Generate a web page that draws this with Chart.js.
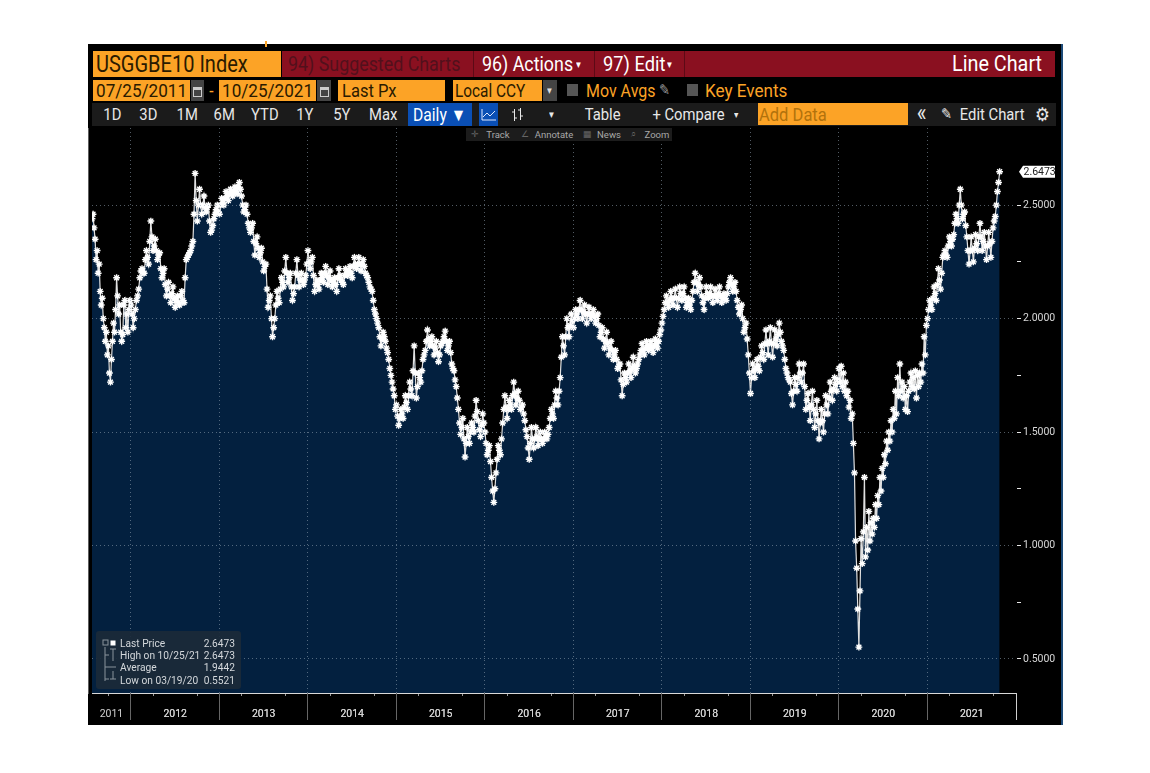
<!DOCTYPE html>
<html>
<head>
<meta charset="utf-8">
<title>USGGBE10 Index</title>
<script src="https://cdn.jsdelivr.net/npm/chart.js@4"></script>
<style>
    html, body { margin: 0; background: #fff; overflow: hidden; }
    #stage { position: relative; width: 1150px; height: 773px; }
    #panel { position: absolute; left: 88px; top: 44px; width: 973px; height: 681px; background: #000; border-right: 2px solid #1c4a78; }
    #chart { position: absolute; left: 88px; top: 128px; }
    .box { position: absolute; white-space: nowrap; font-family: Roboto, sans-serif; line-height: 1; display: flex; align-items: center; }
    .box span { display: inline-block; }
    #legend-box { position: absolute; left: 96px; top: 631px; width: 145px; height: 58px; background: rgba(27, 42, 56, .92); border-radius: 3px; font: 10.2px Roboto, sans-serif; color: #d4d8dc; white-space: nowrap; }
    #legend-box div { position: absolute; left: 24px; right: 6px; display: flex; justify-content: space-between; }
    #legend-box svg { position: absolute; left: 0; top: 0; }
</style>
</head>
<body>
<div id="stage">
    <div id="panel"></div>
    <canvas id="chart" width="973" height="597"></canvas>
    <div id="legend-box">
        <svg width="24" height="58" stroke="#8a949c" fill="none">
            <path d="M9 16V50M9 24H13M9 36H20M9 48H13M17 18V30M14 18H20M14 48H20M17 40V48"/>
            <rect x="7" y="9" width="5" height="5"/>
            <rect x="15" y="10" width="4" height="4" fill="#fff" stroke="#fff"/>
        </svg>
    </div>
</div>

<script>
const yearLabels = ['2011', '2012', '2013', '2014', '2015', '2016', '2017', '2018', '2019', '2020', '2021']
const yearLabelAt = [2011.78, 2012.5, 2013.5, 2014.5, 2015.5, 2016.5, 2017.5, 2018.5, 2019.5, 2020.5, 2021.5]
const yearLines = [2012, 2013, 2014, 2015, 2016, 2017, 2018, 2019, 2020, 2021, 2022]
const priceTicks = [0.5, 1, 1.5, 2, 2.5]
const minorPriceTicks = [0.75, 1.25, 1.75, 2.25]

// breakeven values, year by year
const values2011 = [2.44, 2.46, 2.40, 2.35, 2.26, 2.30, 2.20, 2.24, 2.12, 2.06, 2.09, 2.00, 1.96, 1.90, 1.94, 1.84, 1.88, 1.76, 1.72, 1.82, 1.90, 1.98, 1.94, 2.04, 2.18, 2.10, 2.02, 2.06, 1.94, 1.90, 1.93, 2.06, 2.08, 1.96, 2.02, 1.94, 2.04, 2.08]
const values2012 = [2.06, 1.96, 2.04, 2.10, 2.18, 2.22, 2.20, 2.30, 2.24, 2.43, 2.30, 2.35, 2.26, 2.29, 2.18, 2.22, 2.10, 2.16, 2.07, 2.14, 2.05, 2.10, 2.06, 2.12, 2.07, 2.26, 2.28, 2.30, 2.34, 2.64, 2.43, 2.57, 2.46, 2.54, 2.47, 2.50, 2.38, 2.41, 2.46, 2.50]
const values2013 = [2.46, 2.53, 2.50, 2.56, 2.52, 2.57, 2.54, 2.58, 2.55, 2.60, 2.54, 2.47, 2.50, 2.42, 2.38, 2.42, 2.28, 2.36, 2.27, 2.31, 2.21, 2.24, 2.05, 2.10, 1.92, 2.00, 2.12, 2.07, 2.18, 2.14, 2.27, 2.16, 2.20, 2.08, 2.14, 2.26, 2.14, 2.20, 2.15, 2.19]
const values2014 = [2.30, 2.22, 2.27, 2.12, 2.17, 2.13, 2.20, 2.16, 2.23, 2.15, 2.21, 2.14, 2.18, 2.12, 2.22, 2.17, 2.15, 2.22, 2.19, 2.23, 2.18, 2.27, 2.22, 2.27, 2.21, 2.26, 2.20, 2.18, 2.14, 2.12, 2.04, 2.00, 1.96, 1.88, 1.94, 1.90, 1.85, 1.78, 1.72, 1.66]
const values2015 = [1.62, 1.53, 1.60, 1.56, 1.66, 1.60, 1.72, 1.66, 1.88, 1.65, 1.76, 1.72, 1.82, 1.86, 1.95, 1.88, 1.92, 1.84, 1.90, 1.81, 1.88, 1.90, 1.945, 1.86, 1.90, 1.80, 1.77, 1.70, 1.60, 1.49, 1.56, 1.39, 1.52, 1.45, 1.54, 1.50, 1.64, 1.55, 1.48, 1.58]
const values2016 = [1.50, 1.40, 1.44, 1.30, 1.19, 1.32, 1.44, 1.40, 1.54, 1.66, 1.56, 1.64, 1.60, 1.72, 1.62, 1.68, 1.60, 1.62, 1.55, 1.48, 1.38, 1.52, 1.43, 1.52, 1.44, 1.50, 1.45, 1.50, 1.47, 1.52, 1.60, 1.56, 1.68, 1.62, 1.74, 1.92, 1.84, 2.00, 1.92, 2.02]
const values2017 = [1.96, 2.04, 2.00, 2.08, 2.00, 2.06, 1.98, 2.05, 2.00, 2.04, 1.98, 2.02, 1.92, 1.96, 1.87, 1.94, 1.84, 1.90, 1.82, 1.86, 1.78, 1.80, 1.66, 1.76, 1.72, 1.80, 1.74, 1.83, 1.76, 1.80, 1.84, 1.89, 1.84, 1.90, 1.86, 1.90, 1.85, 1.91, 1.87, 1.93]
const values2018 = [1.98, 2.04, 2.10, 2.05, 2.12, 2.06, 2.13, 2.05, 2.14, 2.08, 2.14, 2.05, 2.09, 2.04, 2.12, 2.20, 2.12, 2.18, 2.10, 2.04, 2.14, 2.09, 2.14, 2.07, 2.13, 2.08, 2.14, 2.07, 2.11, 2.08, 2.14, 2.18, 2.12, 2.16, 2.08, 2.02, 2.06, 1.94, 1.98, 1.84]
const values2019 = [1.67, 1.80, 1.74, 1.82, 1.77, 1.88, 1.82, 1.95, 1.84, 1.96, 1.83, 1.95, 1.88, 1.98, 1.90, 1.86, 1.78, 1.74, 1.72, 1.62, 1.74, 1.68, 1.80, 1.72, 1.80, 1.60, 1.67, 1.55, 1.68, 1.52, 1.64, 1.47, 1.60, 1.50, 1.66, 1.58, 1.72, 1.64, 1.74, 1.68]
const values2020 = [1.78, 1.72, 1.79, 1.70, 1.76, 1.68, 1.72, 1.66, 1.68, 1.61, 1.64, 1.56, 1.58, 1.45, 1.32, 1.02, 0.90, 0.72, 0.5521, 0.80, 1.03, 0.92, 1.06, 1.30, 0.95, 1.08, 0.98, 1.15, 1.02, 1.10, 1.05, 1.12, 1.08, 1.18, 1.12, 1.22, 1.18, 1.30, 1.24, 1.34, 1.30, 1.40, 1.36, 1.46, 1.42, 1.50, 1.46, 1.55, 1.50, 1.60, 1.56, 1.68, 1.58, 1.74, 1.66, 1.80, 1.68, 1.72, 1.65, 1.70, 1.60, 1.66, 1.59, 1.68, 1.72, 1.76, 1.70, 1.74, 1.69, 1.77, 1.65, 1.75, 1.70, 1.76, 1.72, 1.80, 1.76, 1.92, 1.84, 1.97]
const values2021 = [2.00, 2.08, 2.04, 2.14, 2.08, 2.22, 2.13, 2.27, 2.30, 2.27, 2.36, 2.32, 2.37, 2.46, 2.42, 2.57, 2.44, 2.47, 2.36, 2.24, 2.36, 2.25, 2.37, 2.30, 2.42, 2.30, 2.38, 2.26, 2.38, 2.27, 2.40, 2.45, 2.56, 2.6473]

// second reading inside the white band, sits between two neighbours of the list above
const inner2012 = [2.02, 2.00, 2.08, 2.13, 2.21, 2.20, 2.26, 2.27, 2.34, 2.36, 2.32, 2.30, 2.28, 2.22, 2.20, 2.15, 2.13, 2.10, 2.11, 2.09, 2.08, 2.07, 2.10, 2.08, 2.18, 2.27, 2.29, 2.32, 2.46, 2.52, 2.50, 2.50, 2.50, 2.49, 2.49, 2.43, 2.39, 2.44, 2.48, 2.47]
const inner2013 = [2.50, 2.51, 2.53, 2.54, 2.55, 2.55, 2.56, 2.56, 2.58, 2.57, 2.50, 2.48, 2.46, 2.40, 2.40, 2.34, 2.33, 2.31, 2.29, 2.25, 2.23, 2.13, 2.08, 2.00, 1.96, 2.06, 2.09, 2.13, 2.16, 2.21, 2.20, 2.18, 2.14, 2.11, 2.20, 2.19, 2.17, 2.17, 2.17, 2.24]
const inner2014 = [2.25, 2.25, 2.19, 2.15, 2.15, 2.17, 2.18, 2.20, 2.19, 2.18, 2.17, 2.16, 2.15, 2.18, 2.19, 2.16, 2.19, 2.20, 2.21, 2.20, 2.23, 2.24, 2.24, 2.24, 2.24, 2.23, 2.19, 2.16, 2.13, 2.08, 2.02, 1.98, 1.92, 1.91, 1.92, 1.87, 1.82, 1.75, 1.69, 1.60]
const inner2015 = [1.57, 1.56, 1.58, 1.61, 1.63, 1.66, 1.69, 1.77, 1.76, 1.70, 1.74, 1.77, 1.84, 1.90, 1.91, 1.90, 1.88, 1.87, 1.85, 1.84, 1.89, 1.92, 1.90, 1.88, 1.85, 1.78, 1.73, 1.65, 1.54, 1.52, 1.47, 1.45, 1.48, 1.50, 1.52, 1.57, 1.59, 1.51, 1.53, 1.54]
const inner2016 = [1.45, 1.42, 1.37, 1.24, 1.25, 1.38, 1.42, 1.47, 1.60, 1.61, 1.60, 1.62, 1.66, 1.67, 1.65, 1.64, 1.61, 1.58, 1.51, 1.43, 1.45, 1.47, 1.47, 1.48, 1.47, 1.47, 1.47, 1.48, 1.49, 1.56, 1.58, 1.62, 1.65, 1.68, 1.83, 1.88, 1.92, 1.96, 1.97, 1.99]
const inner2017 = [2.00, 2.02, 2.04, 2.04, 2.03, 2.02, 2.02, 2.02, 2.02, 2.01, 2.00, 1.97, 1.94, 1.91, 1.90, 1.89, 1.87, 1.86, 1.84, 1.82, 1.79, 1.73, 1.71, 1.74, 1.76, 1.77, 1.78, 1.79, 1.78, 1.82, 1.86, 1.86, 1.87, 1.88, 1.88, 1.87, 1.88, 1.89, 1.90, 1.95]
const inner2018 = [2.01, 2.07, 2.07, 2.08, 2.09, 2.09, 2.09, 2.09, 2.11, 2.11, 2.09, 2.07, 2.06, 2.08, 2.16, 2.16, 2.15, 2.14, 2.07, 2.09, 2.11, 2.11, 2.10, 2.10, 2.10, 2.11, 2.10, 2.09, 2.09, 2.11, 2.16, 2.15, 2.14, 2.12, 2.05, 2.04, 2.00, 1.96, 1.91, 1.76]
const inner2019 = [1.74, 1.77, 1.78, 1.79, 1.83, 1.85, 1.89, 1.89, 1.90, 1.89, 1.89, 1.91, 1.93, 1.94, 1.88, 1.82, 1.76, 1.73, 1.67, 1.68, 1.71, 1.74, 1.76, 1.76, 1.70, 1.64, 1.61, 1.62, 1.60, 1.58, 1.55, 1.54, 1.55, 1.58, 1.62, 1.65, 1.68, 1.69, 1.71, 1.73]
const inner2021 = [2.04, 2.06, 2.09, 2.11, 2.15, 2.17, 2.20, 2.28, 2.28, 2.32, 2.34, 2.35, 2.42, 2.44, 2.50, 2.50, 2.46, 2.41, 2.30, 2.30, 2.30, 2.31, 2.33, 2.36, 2.36, 2.34, 2.32, 2.32, 2.33, 2.34, 2.43, 2.50, 2.60]

const yearSeries = [values2011, values2012, values2013, values2014, values2015, values2016, values2017, values2018, values2019, values2020, values2021]
const innerSeries = [[], inner2012, inner2013, inner2014, inner2015, inner2016, inner2017, inner2018, inner2019, [], inner2021]
const yearStarts = [2011.56, 2012, 2013, 2014, 2015, 2016, 2017, 2018, 2019, 2020, 2021]
const yearEnds = [2012, 2013, 2014, 2015, 2016, 2017, 2018, 2019, 2020, 2021, 2021.815]

const lastPrice = 2.6473
const legendRows = [
    ['Last Price', '2.6473'],
    ['High on 10/25/21', '2.6473'],
    ['Average', '1.9442'],
    ['Low on 03/19/20', '0.5521']
]
const rangeButtons = [['1D', 112], ['3D', 148], ['1M', 187], ['6M', 224], ['YTD', 265], ['1Y', 305], ['5Y', 342], ['Max', 383]]
const toolNames = [['Track', 498, '✛', 475], ['Annotate', 554, '∠', 525], ['News', 609, '▦', 587], ['Zoom', 657, '⌕', 633]]

const stage = document.querySelector('#stage')

// Bloomberg's face is narrow, so the text is squeezed sideways
function addBox(x, y, w, h, bg, text, color, size, align, squeeze) {
    const el = document.createElement('div')
    el.className = 'box'
    const pos = align || 'flex-start'
    el.style.cssText = `left:${x}px;top:${y}px;width:${w}px;height:${h}px;background:${bg};color:${color || '#fff'};font-size:${size || 16}px;justify-content:${pos}`
    if (text) {
        const origin = pos === 'center' ? 'center' : pos === 'flex-end' ? 'right' : 'left'
        const span = document.createElement('span')
        span.textContent = text
        span.style.cssText = `transform:scaleX(${squeeze || 0.87});transform-origin:${origin}`
        el.appendChild(span)
    }
    stage.appendChild(el)
    return el
}

function addIcon(x, y, w, h, bg, svg) {
    const el = addBox(x, y, w, h, bg)
    el.style.justifyContent = 'center'
    el.innerHTML = svg
}

function renderToolbar() {
    const orange = '#fca326'
    const red = '#8a1020'
    const ink = '#2a1a00'
    const light = '#e8e8e8'
    const calendar = '<svg width="9" height="12"><rect x="0.5" y="2.5" width="8" height="9" fill="none" stroke="#ccc"/><rect x="1" y="2" width="7" height="3" fill="#ccc"/></svg>'
    addBox(265, 41, 2, 6, orange)

    addBox(93, 51, 188, 26, orange)
    addBox(96, 51, 180, 26, 'transparent', 'USGGBE10 Index', ink, 23)
    addBox(282, 51, 773, 26, red)
    addBox(288, 51, 184, 26, 'transparent', '94) Suggested Charts', '#52101c', 21, 'flex-start', 0.85)
    addBox(473, 51, 1, 26, '#5c0a16')
    addBox(482, 51, 100, 26, 'transparent', '96) Actions', '#fff', 21, 'flex-start', 0.85)
    addBox(576, 51, 12, 26, 'transparent', '▾', '#fff', 11)
    addBox(594, 51, 1, 26, '#5c0a16')
    addBox(603, 51, 70, 26, 'transparent', '97) Edit', '#fff', 21, 'flex-start', 0.87)
    addBox(667, 51, 12, 26, 'transparent', '▾', '#fff', 11)
    addBox(684, 51, 1, 26, '#5c0a16')
    addBox(900, 51, 142, 26, 'transparent', 'Line Chart', '#fff', 22, 'flex-end', 0.9)

    addBox(93, 80, 97, 21, orange, '07/25/2011', ink, 19, 'center', 0.9)
    addIcon(191, 80, 13, 21, '#444', calendar)
    addBox(207, 80, 9, 21, 'transparent', '-', orange, 18, 'center')
    addBox(219, 80, 97, 21, orange, '10/25/2021', ink, 19, 'center', 0.9)
    addIcon(317, 80, 14, 21, '#444', calendar)
    addBox(338, 80, 107, 21, orange)
    addBox(342, 80, 100, 21, 'transparent', 'Last Px', ink, 19)
    addBox(453, 80, 89, 21, orange)
    addBox(455, 80, 86, 21, 'transparent', 'Local CCY', ink, 19, 'flex-start', 0.81)
    addBox(543, 80, 14, 21, '#444', '▾', '#ddd', 11, 'center')
    addBox(567, 84, 11, 12, '#555')
    addBox(586, 80, 72, 21, 'transparent', 'Mov Avgs', orange, 19, 'flex-start', 0.84)
    addBox(659, 80, 16, 21, 'transparent', '✎', '#999', 15)
    addBox(687, 84, 11, 12, '#555')
    addBox(705, 80, 85, 21, 'transparent', 'Key Events', orange, 19, 'flex-start', 0.9)

    addBox(92, 103, 964, 23, '#1b1b1b')
    rangeButtons.forEach(([label, x]) => addBox(x - 20, 103, 40, 23, 'transparent', label, light, 17, 'center'))
    addBox(408, 103, 64, 23, '#0a4fb5', 'Daily ▼', '#fff', 18, 'center')
    addIcon(479, 103, 19, 23, '#0a4fb5', '<svg width="15" height="13" fill="none" stroke="#dfe9ff"><path d="M1 1V12H15M2 9L6 5L9 8L14 3"/></svg>')
    addIcon(507, 103, 20, 23, 'transparent', '<svg width="13" height="15" fill="none" stroke="#e8e8e8"><path d="M3.5 2V14M1 5H3.5M3.5 11H6M9.5 1V13M7 3H9.5M9.5 9H12"/></svg>')
    addBox(546, 103, 12, 23, 'transparent', '▾', light, 11, 'center')
    addBox(585, 103, 36, 23, 'transparent', 'Table', light, 17, 'center')
    addBox(650, 103, 76, 23, 'transparent', '+ Compare', light, 17, 'center')
    addBox(730, 103, 12, 23, 'transparent', '▾', light, 10, 'center')
    addBox(758, 103, 150, 22, orange)
    addBox(759, 103, 140, 22, 'transparent', 'Add Data', '#b2720c', 19)
    addBox(914, 101, 16, 23, 'transparent', '«', light, 24, 'center')
    addBox(938, 103, 16, 23, 'transparent', '✎', light, 15, 'center')
    addBox(958, 103, 68, 23, 'transparent', 'Edit Chart', light, 17, 'center')
    addBox(1032, 103, 20, 23, 'transparent', '⚙', light, 19, 'center')
}

function renderTools() {
    addBox(466, 128, 206, 13, '#1c1c1c')
    toolNames.forEach(([label, x, glyph, glyphX]) => {
        addBox(x - 24, 128, 48, 13, 'transparent', label, '#a8a8a8', 9.5, 'center', 1)
        addBox(glyphX - 6, 128, 12, 13, 'transparent', glyph, '#666', 9, 'center', 1)
    })
}

function renderLegend() {
    const box = document.querySelector('#legend-box')
    legendRows.forEach(([name, value], i) => {
        const row = document.createElement('div')
        row.style.top = `${6.5 + i * 12.4}px`
        row.innerHTML = `<span>${name}</span><span>${value}</span>`
        box.appendChild(row)
    })
}

function buildPoints() {
    const points = []
    yearSeries.forEach((values, s) => {
        const merged = []
        values.forEach((value, i) => {
            merged.push(value)
            if (i < innerSeries[s].length) merged.push(innerSeries[s][i])
        })
        const step = (yearEnds[s] - yearStarts[s]) / (s === 10 ? merged.length - 1 : merged.length)
        merged.forEach((value, i) => points.push({ x: yearStarts[s] + i * step, y: value }))
    })
    return points
}

const lastPriceChip = {
    id: 'lastPriceChip',
    afterDraw(chart) {
        const { ctx, scales } = chart
        const y = scales.y.getPixelForValue(lastPrice)
        const x = scales.y.left + 3
        ctx.save()
        ctx.fillStyle = '#fff'
        ctx.beginPath()
        ctx.moveTo(x, y)
        ctx.lineTo(x + 4, y - 6)
        ctx.lineTo(x + 36, y - 6)
        ctx.lineTo(x + 36, y + 6)
        ctx.lineTo(x + 4, y + 6)
        ctx.closePath()
        ctx.fill()
        ctx.fillStyle = '#222'
        ctx.font = '10.5px Roboto, sans-serif'
        ctx.textAlign = 'left'
        ctx.textBaseline = 'middle'
        ctx.fillText(lastPrice.toFixed(4), x + 4.5, y + 0.5)
        ctx.restore()
    }
}

function createLineChart() {
    const quarterTicks = []
    yearLines.forEach(year => {
        [-0.75, -0.5, -0.25, 0].forEach(q => {
            if (year + q > 2011.56) quarterTicks.push(year + q)
        })
    })

    new Chart(document.querySelector('#chart'), {
        type: 'line',
        data: {
            datasets: [{
                data: buildPoints(),
                borderColor: '#e0e0e0',
                borderWidth: 1.2,
                backgroundColor: '#03203f',
                fill: 'start',
                tension: 0,
                pointStyle: 'star',
                pointRadius: 3.4,
                pointBorderColor: '#fff',
                pointBorderWidth: 1.4
            }]
        },
        options: {
            responsive: false,
            animation: false,
            layout: { autoPadding: false, padding: { left: 4, top: 0, right: 0, bottom: 0 } },
            plugins: { legend: { display: false }, tooltip: { enabled: false } },
            scales: {
                x: {
                    type: 'linear',
                    position: 'bottom',
                    weight: 0,
                    min: 2011.56,
                    max: 2022,
                    afterBuildTicks: scale => { scale.ticks = yearLines.map(value => ({ value })) },
                    afterFit: scale => {
                        scale.height = 0
                        scale.paddingLeft = 0
                        scale.paddingRight = 0
                    },
                    ticks: { display: false },
                    border: { display: false, dash: [1, 3] },
                    grid: {
                        z: 1,
                        color: ctx => ctx.tick && ctx.tick.value === 2022 ? 'rgba(0,0,0,0)' : 'rgba(150,165,180,.55)',
                        tickColor: ctx => ctx.tick && ctx.tick.value === 2022 ? '#cfcfcf' : '#666',
                        tickLength: 27,
                        tickBorderDash: []
                    }
                },
                xLabels: {
                    type: 'linear',
                    position: 'bottom',
                    weight: 1,
                    min: 2011.56,
                    max: 2022,
                    afterBuildTicks: scale => {
                        scale.ticks = [...quarterTicks, ...yearLabelAt].map(value => ({ value }))
                    },
                    afterFit: scale => {
                        scale.height = 32
                        scale.paddingLeft = 0
                        scale.paddingRight = 0
                    },
                    border: { color: '#d8d8d8' },
                    grid: {
                        drawOnChartArea: false,
                        tickLength: 3,
                        tickColor: ctx => ctx.tick && yearLabelAt.includes(ctx.tick.value) ? 'rgba(0,0,0,0)' : '#999'
                    },
                    ticks: {
                        autoSkip: false,
                        maxRotation: 0,
                        padding: 12,
                        color: '#d0d0d0',
                        font: { family: 'Roboto, sans-serif', size: 10.5 },
                        callback: value => {
                            const i = yearLabelAt.indexOf(value)
                            return i >= 0 ? yearLabels[i] : ''
                        }
                    }
                },
                y: {
                    type: 'linear',
                    position: 'right',
                    min: 0.35,
                    max: 2.84,
                    afterBuildTicks: scale => {
                        scale.ticks = [...priceTicks, ...minorPriceTicks].map(value => ({ value }))
                    },
                    afterFit: scale => {
                        scale.width = 45
                        scale.paddingTop = 0
                        scale.paddingBottom = 0
                    },
                    border: { color: '#bbb', dash: [1, 3] },
                    grid: {
                        z: 1,
                        color: ctx => ctx.tick && priceTicks.includes(ctx.tick.value) ? 'rgba(150,165,180,.55)' : 'rgba(0,0,0,0)',
                        tickColor: '#e8e8e8',
                        tickLength: 5,
                        tickBorderDash: []
                    },
                    ticks: {
                        autoSkip: false,
                        padding: 2,
                        color: '#d8d8d8',
                        font: { family: 'Roboto, sans-serif', size: 10.5 },
                        callback: value => priceTicks.includes(value) ? value.toFixed(4) : ''
                    }
                }
            }
        },
        plugins: [lastPriceChip]
    })
}

renderToolbar()
renderLegend()
createLineChart()
renderTools()
</script>
</body>
</html>
